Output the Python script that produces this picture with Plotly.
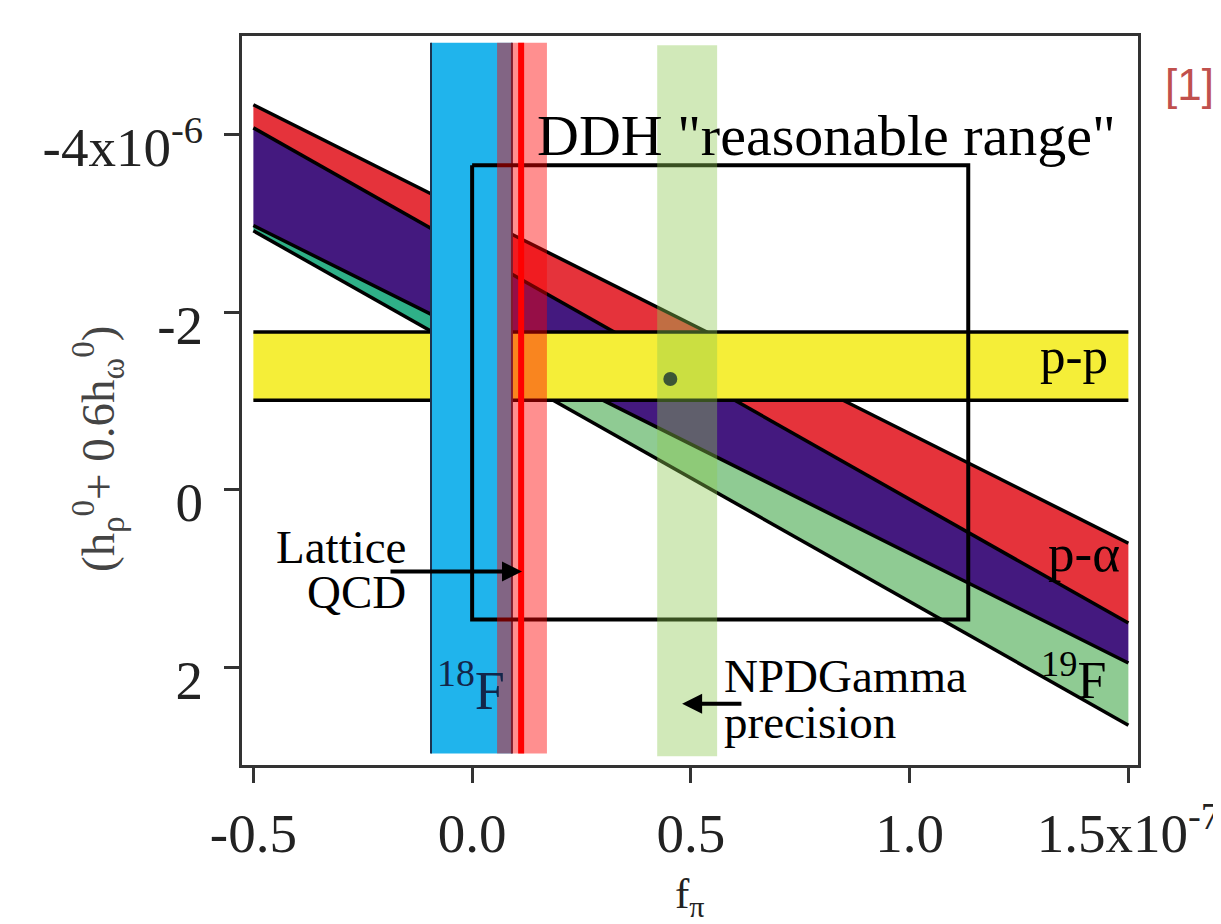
import numpy as np
import plotly.graph_objects as go

# ---------------- data (x in units of 1e-7, y in units of 1e-6) ----------------
band_x = [-0.5, 1.5]                 # extent of the diagonal / horizontal bands
p_alpha_upper = [-4.34, 0.60]        # p-alpha band, upper edge (at band_x)
p_alpha_lower = [-4.08, 1.50]        # p-alpha band, lower edge = purple band upper edge
purple_lower = [-2.98, 1.95]         # purple band lower edge = 19F band upper edge
f19_lower = [-2.92, 2.65]            # 19F band lower edge

pp_band = [-1.78, -1.01]             # p-p horizontal band (y range)

f18_band = [-0.094, 0.091]           # 18F vertical band (x range)
lattice_band = [0.057, 0.171]        # Lattice QCD band (x range)
lattice_central = 0.112              # Lattice QCD central value
npd_band = [0.423, 0.560]            # NPDGamma precision band (x range)
vert_y = [-5.04, 2.97]               # vertical extent of 18F / lattice bands
npd_y = [-5.01, 3.00]                # vertical extent of NPDGamma band

ddh_x = [0.0, 1.134]                 # DDH "reasonable range" box
ddh_y = [-3.66, 1.46]

best_x = [0.453]                     # best value point
best_y = [-1.25]

x_tickvals = [-0.5, 0.0, 0.5, 1.0, 1.5]
x_ticktext = ["-0.5", "0.0", "0.5", "1.0", "1.5x10<sup>-7</sup>"]
y_tickvals = [-4, -2, 0, 2]
y_ticktext = ["-4x10<sup>-6</sup>", "-2", "0", "2"]

SERIF = "Liberation Serif"

# ---------------- helpers ----------------
def band_poly(xs, up, lo):
    xs = list(xs); up = list(up); lo = list(lo)
    return xs + xs[::-1] + [xs[0]], up + lo[::-1] + [up[0]]

def fill_trace(xs, ys, color):
    return go.Scatter(x=xs, y=ys, mode="lines", fill="toself", fillcolor=color,
                      line=dict(width=0, color=color), hoverinfo="skip", showlegend=False)

def line_trace(xs, ys, color="black", width=3.5):
    return go.Scatter(x=xs, y=ys, mode="lines", line=dict(color=color, width=width),
                      hoverinfo="skip", showlegend=False)

def rect(x0, x1, y0, y1):
    return [x0, x1, x1, x0, x0], [y0, y0, y1, y1, y0]

fig = go.Figure()

# diagonal bands
fig.add_trace(fill_trace(*band_poly(band_x, p_alpha_upper, p_alpha_lower), "#e5333b"))
fig.add_trace(fill_trace(*band_poly(band_x, p_alpha_lower, purple_lower), "#44197f"))

split = f18_band[0]
c_split = float(np.interp(split, band_x, purple_lower))
d_split = float(np.interp(split, band_x, f19_lower))
fig.add_trace(fill_trace(*band_poly([band_x[0], split], [purple_lower[0], c_split],
                                    [f19_lower[0], d_split]), "#2fb088"))
fig.add_trace(fill_trace(*band_poly([split, band_x[1]], [c_split, purple_lower[1]],
                                    [d_split, f19_lower[1]]), "#8fcb93"))

for edge in (p_alpha_upper, p_alpha_lower, purple_lower, f19_lower):
    fig.add_trace(line_trace(band_x, edge))

# p-p band
fig.add_trace(fill_trace(*rect(band_x[0], band_x[1], pp_band[0], pp_band[1]), "#f5ee38"))
fig.add_trace(line_trace(band_x, [pp_band[0]] * 2))
fig.add_trace(line_trace(band_x, [pp_band[1]] * 2))

# 18F band
fig.add_trace(fill_trace(*rect(f18_band[0], f18_band[1], vert_y[0], vert_y[1]), "#20b4ec"))
fig.add_trace(line_trace([f18_band[0]] * 2, vert_y, color="#1c3350", width=2))
fig.add_trace(line_trace([f18_band[1]] * 2, vert_y, color="#1c3350", width=2))

# DDH box
bx, by = rect(ddh_x[0], ddh_x[1], ddh_y[0], ddh_y[1])
fig.add_trace(line_trace(bx, by, width=4))

# Lattice QCD band + central value
fig.add_trace(fill_trace(*rect(lattice_band[0], lattice_band[1], vert_y[0], vert_y[1]),
                         "rgba(255,0,0,0.44)"))
fig.add_trace(line_trace([lattice_central] * 2, vert_y, color="#ff0000", width=6))

# NPDGamma band
fig.add_trace(fill_trace(*rect(npd_band[0], npd_band[1], npd_y[0], npd_y[1]),
                         "rgba(140,200,80,0.40)"))

# best point
fig.add_trace(go.Scatter(x=best_x, y=best_y, mode="markers",
                         marker=dict(size=14, color="#3d5535"),
                         hoverinfo="skip", showlegend=False))

# ---------------- annotations ----------------
ann = []
def txt(x, y, text, size, xanchor="left", color="black", font=SERIF):
    ann.append(dict(x=x, y=y, xref="x", yref="y",
                    text=text, showarrow=False, xanchor=xanchor, yanchor="middle",
                    font=dict(family=font, size=size, color=color)))

txt(0.144, -3.99, 'DDH "reasonable range"', 58)
txt(1.458, -1.51, "p-p", 51, xanchor="right")
txt(1.486, 0.71, "p-α", 53, xanchor="right")
txt(1.454, 2.10, "<sup>19</sup>F", 52, xanchor="right")
txt(-0.085, 2.22, "<sup>18</sup>F", 54, color="#13264a")
txt(-0.146, 0.64, "Lattice", 47, xanchor="right")
txt(-0.146, 1.15, "QCD", 47, xanchor="right")
txt(0.571, 2.10, "NPDGamma", 47)
txt(0.571, 2.61, "precision", 47)

# arrows
ann.append(dict(x=0.114, y=0.92, ax=-0.19, ay=0.92, xref="x", yref="y", axref="x", ayref="y",
                showarrow=True, arrowhead=2, arrowsize=1, arrowwidth=4, arrowcolor="black", text=""))
ann.append(dict(x=0.48, y=2.41, ax=0.619, ay=2.41, xref="x", yref="y", axref="x", ayref="y",
                showarrow=True, arrowhead=2, arrowsize=1, arrowwidth=4, arrowcolor="black", text=""))

# axis titles
ann.append(dict(x=0.5, y=-0.181, xref="paper", yref="paper", showarrow=False,
                text="f<sub>π</sub>", xanchor="center", yanchor="middle",
                font=dict(family=SERIF, size=43, color="#222")))
ann.append(dict(x=-0.16, y=0.433, xref="paper", yref="paper", showarrow=False,
                text="(h<sub>ρ</sub><sup>0</sup>+ 0.6h<sub>ω</sub><sup>0</sup>)", textangle=-90,
                xanchor="center", yanchor="middle",
                font=dict(family=SERIF, size=47, color="#444")))
# reference tag
ann.append(dict(x=1.058, y=0.933, xref="paper", yref="paper", showarrow=False,
                text="[1]", xanchor="center", yanchor="middle",
                font=dict(family="Liberation Sans", size=44, color="#c0504d")))

axis_common = dict(showgrid=False, zeroline=False, showline=True, mirror=True, automargin=False,
                   linecolor="#333", linewidth=3, ticks="outside", ticklen=15, tickwidth=3,
                   tickcolor="#333", tickfont=dict(family=SERIF, size=55, color="#222"))

# the page body adds an 8px offset, so the figure is 8px smaller and margins shifted
fig.update_layout(
    width=1213, height=916,
    margin=dict(l=234, r=83, t=28, b=159, autoexpand=False),
    paper_bgcolor="white", plot_bgcolor="white",
    showlegend=False,
    annotations=ann,
    xaxis=dict(range=[-0.526, 1.522], tickvals=x_tickvals, ticktext=x_ticktext,
               ticklabeloverflow="allow", ticklabelstandoff=3, **axis_common),
    yaxis=dict(range=[3.099, -5.115], tickvals=y_tickvals, ticktext=y_ticktext,
               ticklabelstandoff=10, ticklabelshift=-12, **axis_common),
)

fig.write_html("out.html")
